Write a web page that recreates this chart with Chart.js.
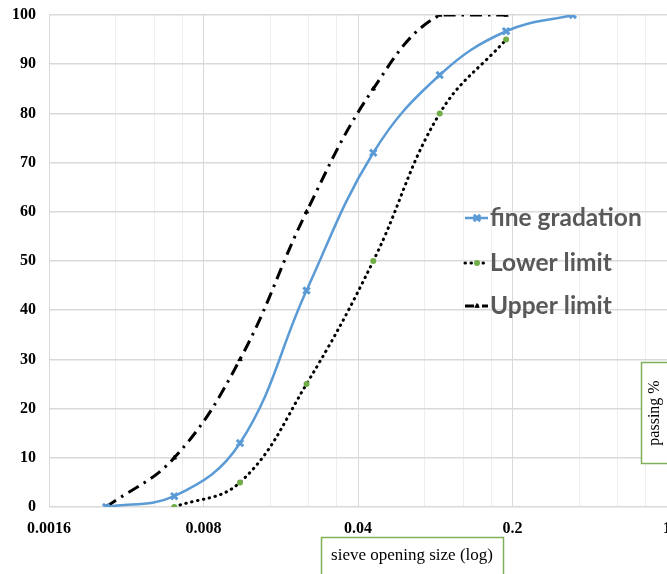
<!DOCTYPE html>
<html>
<head>
<meta charset="utf-8">
<script src="https://cdn.jsdelivr.net/npm/chart.js@4.4.1/dist/chart.umd.min.js"></script>
<style>
    html, body { margin: 0; padding: 0; background: #ffffff; }
    #wrap { width: 667px; height: 574px; position: relative; }
</style>
</head>
<body>
<div id="wrap"><canvas id="gradationChart"></canvas></div>
<script>
// sieve opening sizes (in) and percent passing
const sieveSizes = [0.0029, 0.0059, 0.0117, 0.0234, 0.0469, 0.0937, 0.187, 0.375];
const fineValues = [0, 2.2, 13, 44, 72, 87.8, 96.7, 100];
const lowerValues = [null, 0, 5, 25, 50, 80, 95, null];
const upperValues = [0, 10, 30, 60, 85, 100, 100, null];

// log axis ticks (base 5) and the ones that carry a label
const xMajorTicks = [0.0016, 0.008, 0.04, 0.2, 1];
const xTickLabels = ['0.0016', '0.008', '0.04', '0.2', '1'];
const yTicks = [0, 10, 20, 30, 40, 50, 60, 70, 80, 90, 100];

function toPoints(values) {
    let pts = [];
    values.forEach((v, i) => {
        if (v !== null) pts.push({ x: sieveSizes[i], y: v });
    });
    return pts;
}

// minor gridlines at 2x, 3x, 4x of every major tick
let xAllTicks = [];
xMajorTicks.forEach((t, i) => {
    xAllTicks.push(t);
    if (i < xMajorTicks.length - 1) {
        [2, 3, 4].forEach(m => xAllTicks.push(+(t * m).toPrecision(6)));
    }
});

const tickFont = { family: '"Liberation Serif", "Times New Roman", serif', size: 16, weight: 'bold' };

// legend drawn inside the plot area
const insideLegend = {
    id: 'insideLegend',
    afterDraw(chart) {
        let ctx = chart.ctx;
        let rows = [218, 263, 306];
        ctx.save();
        chart.data.datasets.forEach((ds, i) => {
            let y = rows[i];
            ctx.beginPath();
            ctx.strokeStyle = ds.borderColor;
            ctx.lineWidth = ds.borderWidth;
            ctx.lineCap = ds.borderCapStyle || 'butt';
            ctx.setLineDash(i === 2 ? [9, 3, 2, 3] : (ds.borderDash || []));
            ctx.moveTo(465, y);
            ctx.lineTo(488, y);
            ctx.stroke();
            ctx.setLineDash([]);
            ctx.fillStyle = ds.pointBackgroundColor;
            ctx.strokeStyle = ds.pointBorderColor;
            ctx.lineWidth = ds.pointBorderWidth;
            Chart.helpers.drawPoint(ctx, {
                pointStyle: ds.pointStyle,
                radius: ds.pointRadius,
                borderWidth: ds.pointBorderWidth
            }, 477, y);
            ctx.fillStyle = '#595959';
            ctx.font = 'bold 24.5px Lato, "Open Sans", sans-serif';
            ctx.textBaseline = 'middle';
            ctx.textAlign = 'left';
            ctx.fillText(ds.label, 490, y);
        });
        ctx.restore();
    }
};

// boxed axis titles
const titleBoxes = {
    id: 'titleBoxes',
    afterDraw(chart) {
        let ctx = chart.ctx;
        ctx.save();
        ctx.strokeStyle = '#7fb05a';
        ctx.lineWidth = 1.5;
        ctx.fillStyle = '#ffffff';

        ctx.fillRect(321, 537, 182, 40);
        ctx.strokeRect(321.5, 537.5, 182, 40);
        ctx.fillStyle = '#000000';
        ctx.font = '17px "Liberation Serif", "Times New Roman", serif';
        ctx.textAlign = 'center';
        ctx.textBaseline = 'middle';
        ctx.fillText('sieve opening size (log)', 412, 556);

        ctx.fillStyle = '#ffffff';
        ctx.fillRect(641, 362, 30, 101);
        ctx.strokeRect(641.5, 362.5, 30, 101);
        ctx.translate(655, 413);
        ctx.rotate(-Math.PI / 2);
        ctx.fillStyle = '#000000';
        ctx.font = '16px "Liberation Serif", "Times New Roman", serif';
        ctx.fillText('passing %', 0, 0);
        ctx.restore();
    }
};

let ctx = document.getElementById('gradationChart').getContext('2d');
new Chart(ctx, {
    type: 'line',
    data: {
        datasets: [
            {
                label: 'fine gradation',
                data: toPoints(fineValues),
                borderColor: '#5b9bd5',
                backgroundColor: '#5b9bd5',
                borderWidth: 2.5,
                pointStyle: 'crossRot',
                pointRadius: 4.5,
                pointBorderWidth: 3,
                pointBackgroundColor: '#5b9bd5',
                pointBorderColor: '#5b9bd5',
                tension: 0.4,
                order: 1
            },
            {
                label: 'Lower limit',
                data: toPoints(lowerValues),
                borderColor: '#000000',
                backgroundColor: '#70ad47',
                borderWidth: 3,
                borderDash: [0.5, 5.5],
                borderCapStyle: 'round',
                pointStyle: 'circle',
                pointRadius: 3,
                pointBorderWidth: 0,
                pointBackgroundColor: '#70ad47',
                pointBorderColor: '#70ad47',
                tension: 0.4,
                order: 2
            },
            {
                label: 'Upper limit',
                data: toPoints(upperValues),
                borderColor: '#000000',
                backgroundColor: '#000000',
                borderWidth: 3,
                borderDash: [12, 6, 2.5, 6],
                pointStyle: 'triangle',
                pointRadius: 2.5,
                pointBorderWidth: 1,
                pointBackgroundColor: '#000000',
                pointBorderColor: '#000000',
                tension: 0.4,
                order: 3
            }
        ]
    },
    options: {
        responsive: true,
        maintainAspectRatio: false,
        animation: false,
        layout: { autoPadding: false, padding: { top: 15, right: -2, left: 0, bottom: 0 } },
        plugins: {
            legend: { display: false },
            tooltip: { enabled: false }
        },
        scales: {
            x: {
                type: 'logarithmic',
                min: 0.0016,
                max: 1,
                border: { display: false },
                afterBuildTicks: function (scale) {
                    scale.ticks = xAllTicks.map(v => ({ value: v }));
                },
                afterFit: function (scale) {
                    scale.height = 67;
                    scale.paddingLeft = 0;
                    scale.paddingRight = 0;
                },
                grid: {
                    drawTicks: false,
                    color: function (c) {
                        let v = c.tick ? c.tick.value : 0;
                        return xMajorTicks.some(t => Math.abs(t - v) < 1e-9) ? '#d9d9d9' : '#efefef';
                    },
                    lineWidth: 1
                },
                ticks: {
                    autoSkip: false,
                    maxRotation: 0,
                    padding: 12,
                    color: '#000000',
                    font: tickFont,
                    callback: function (value) {
                        let idx = xMajorTicks.findIndex(t => Math.abs(t - value) < 1e-9);
                        return idx >= 0 ? xTickLabels[idx] : '';
                    }
                }
            },
            y: {
                min: 0,
                max: 100,
                border: { display: false },
                afterBuildTicks: function (scale) {
                    scale.ticks = yTicks.map(v => ({ value: v }));
                },
                afterFit: function (scale) {
                    scale.width = 49;
                    scale.paddingTop = 0;
                    scale.paddingBottom = 0;
                },
                grid: {
                    drawTicks: false,
                    color: '#d9d9d9',
                    lineWidth: 1.5
                },
                ticks: {
                    padding: 13,
                    color: '#000000',
                    font: tickFont
                }
            }
        }
    },
    plugins: [insideLegend, titleBoxes]
});
</script>
</body>
</html>
